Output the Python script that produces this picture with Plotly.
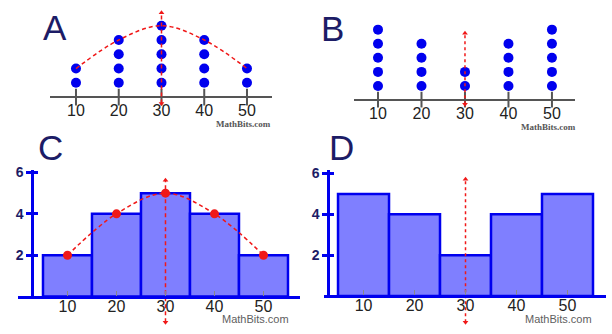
import plotly.graph_objects as go

# ---------------- data ----------------
categories = [10, 20, 30, 40, 50]
tick_labels = ["10", "20", "30", "40", "50"]
counts_A = [2, 4, 5, 4, 2]
counts_B = [5, 4, 2, 4, 5]
freq_C = [2, 4, 5, 4, 2]
freq_D = [5, 4, 2, 4, 5]
y_ticks_hist = [2, 4, 6]
center_value = 30
panel_letters = ["A", "B", "C", "D"]
credit = "MathBits.com"

# vertical guide extents (styling, in axis units)
guide_A = [-0.45, 5.9]
guide_B = [-0.3, 4.75]
guide_C = [-1.24, 5.62]
guide_D = [-1.28, 5.71]

W, H = 612, 334
def px_x(p): return p / W
def px_y(p): return 1 - p / H

BLUE_DOT = "#0000ee"
RED = "#f01818"
NAVY = "#1c1c66"
BAR_FILL = "#7f7fff"
BAR_LINE = "#0000ee"
AXIS_GRAY = "#555555"
FONT = "Liberation Sans, Arial, sans-serif"

fig = go.Figure()

def dot_plot(counts, xa, ya):
    xs, ys = [], []
    for c, n in zip(categories, counts):
        for k in range(1, n + 1):
            xs.append(c); ys.append(k)
    # tick marks crossing axis
    fig.add_trace(go.Scatter(x=categories, y=[0] * len(categories), mode="markers",
                             marker=dict(symbol="line-ns", size=12,
                                         line=dict(width=2, color=AXIS_GRAY)),
                             xaxis=xa, yaxis=ya, hoverinfo="skip", showlegend=False))
    fig.add_trace(go.Scatter(x=xs, y=ys, mode="markers",
                             marker=dict(size=10, color=BLUE_DOT),
                             xaxis=xa, yaxis=ya, showlegend=False))

def guide(ext, xa, ya, dash):
    fig.add_trace(go.Scatter(x=[center_value, center_value], y=ext, mode="lines+markers",
                             line=dict(color=RED, width=1.5, dash=dash),
                             marker=dict(symbol=["triangle-down", "triangle-up"], size=5, color=RED),
                             xaxis=xa, yaxis=ya, hoverinfo="skip", showlegend=False, cliponaxis=False))

# ---- A ----
dot_plot(counts_A, "x", "y")
fig.add_trace(go.Scatter(x=categories, y=counts_A, mode="lines", line=dict(color=RED, width=1.5, dash="4px,3px", shape="spline"),
                         xaxis="x", yaxis="y", hoverinfo="skip", showlegend=False))
guide(guide_A, "x", "y", "4px,3px")

# ---- B ----
dot_plot(counts_B, "x2", "y2")
guide(guide_B, "x2", "y2", "dot")

# ---- C ----
fig.add_trace(go.Bar(x=categories, y=freq_C, width=10, marker=dict(color=BAR_FILL, line=dict(color=BAR_LINE, width=2.5)),
                     xaxis="x3", yaxis="y3", showlegend=False))
fig.add_trace(go.Scatter(x=categories, y=freq_C, mode="lines+markers",
                         line=dict(color=RED, width=1.5, dash="4px,3px", shape="spline"),
                         marker=dict(size=9, color=RED),
                         xaxis="x3", yaxis="y3", showlegend=False))
guide(guide_C, "x3", "y3", "4px,3px")
fig.add_trace(go.Scatter(x=[], y=[], xaxis="x3", yaxis="y5", showlegend=False))
fig.add_trace(go.Scatter(x=[], y=[], xaxis="x3", yaxis="y7", showlegend=False))

# ---- D ----
fig.add_trace(go.Bar(x=categories, y=freq_D, width=10, marker=dict(color=BAR_FILL, line=dict(color=BAR_LINE, width=2.5)),
                     xaxis="x4", yaxis="y4", showlegend=False))
guide(guide_D, "x4", "y4", "dot")
fig.add_trace(go.Scatter(x=[], y=[], xaxis="x4", yaxis="y6", showlegend=False))
fig.add_trace(go.Scatter(x=[], y=[], xaxis="x4", yaxis="y8", showlegend=False))

hidden = dict(showgrid=False, zeroline=False, showline=False, showticklabels=False, ticks="", fixedrange=True)
tickfont = dict(family=FONT, size=16, color="#222222")

def xaxis_cfg(d0, d1, rng, pos, line):
    cfg = dict(domain=[px_x(d0), px_x(d1)], range=rng, anchor="free", position=pos,
               tickmode="array", tickvals=categories, ticktext=tick_labels, tickfont=tickfont,
               showgrid=False, zeroline=False, fixedrange=True)
    if line:
        cfg.update(showline=True, linecolor=BAR_LINE, linewidth=2.5, ticks="inside", ticklen=5,
                   tickcolor="#888888", tickwidth=1, ticklabelstandoff=-6)
    else:
        cfg.update(showline=False, ticks="")
    return cfg

def frame_y(d_bottom, d_top, rng, xpos, inside=False, overlay=None):
    cfg = dict(domain=[px_y(d_bottom), px_y(d_top)], range=rng, anchor="free", position=px_x(xpos),
               showline=not inside, linecolor=BAR_LINE, linewidth=2.5,
               tickmode="array", tickvals=y_ticks_hist,
               ticks="inside" if inside else "outside", ticklen=5, tickwidth=2.5, tickcolor=BAR_LINE,
               showticklabels=not inside,
               tickfont=dict(family=FONT, size=14, color=NAVY, weight="bold"),
               showgrid=False, zeroline=False, fixedrange=True)
    if overlay:
        cfg["overlaying"] = overlay
    return cfg

layout = dict(
    width=W, height=H, margin=dict(l=0, r=0, t=0, b=0),
    paper_bgcolor="white", plot_bgcolor="rgba(0,0,0,0)",
    font=dict(family=FONT), showlegend=False,
    # A
    xaxis=xaxis_cfg(50, 272, [3.92, 55.85], px_y(95), False),
    yaxis=dict(domain=[px_y(103), px_y(5)], range=[-0.655, 6.103], showgrid=False, showticklabels=False,
               zeroline=True, zerolinecolor=AXIS_GRAY, zerolinewidth=2, fixedrange=True),
    # B
    xaxis2=xaxis_cfg(354, 575, [4.48, 55.3], px_y(98), False),
    yaxis2=dict(domain=[px_y(104), px_y(15)], range=[-0.524, 5.70], showgrid=False, showticklabels=False,
                zeroline=True, zerolinecolor=AXIS_GRAY, zerolinewidth=2, fixedrange=True),
    # C
    xaxis3=xaxis_cfg(18, 300, [-0.1, 57.45], px_y(296), True),
    yaxis3=dict(domain=[px_y(325), px_y(167)], range=[-1.381, 6.143], **hidden),
    yaxis5=frame_y(296, 167, [0, 6.143], 32),
    yaxis7=frame_y(296, 167, [0, 6.143], 32, inside=True, overlay="y5"),
    # D
    xaxis4=xaxis_cfg(324, 606, [2.25, 57.55], px_y(295.5), True),
    yaxis4=dict(domain=[px_y(325), px_y(167)], range=[-1.422, 6.193], **hidden),
    yaxis6=frame_y(295.5, 167, [0, 6.193], 328),
    yaxis8=frame_y(295.5, 167, [0, 6.193], 328, inside=True, overlay="y6"),
    barmode="overlay",
)
fig.update_layout(**layout)

letter_pos = [(55, 23), (332, 24), (50, 145), (341, 145)]
for letter, (lx, ly) in zip(panel_letters, letter_pos):
    fig.add_annotation(text=letter, x=px_x(lx), y=px_y(ly), xref="paper", yref="paper",
                       showarrow=False, xanchor="center", yanchor="middle",
                       font=dict(family=FONT, size=35, color=NAVY))

credit_pos = [(243, 121, "serif"), (548, 124, "serif"), (255, 319, "sans"), (558, 319, "sans")]
for cx, cy, kind in credit_pos:
    if kind == "serif":
        f = dict(family="Liberation Serif, Times New Roman, serif", size=9, color="#555555", weight="bold")
    else:
        f = dict(family=FONT, size=11, color="#606060")
    fig.add_annotation(text=credit, x=px_x(cx), y=px_y(cy), xref="paper", yref="paper",
                       showarrow=False, xanchor="center", yanchor="middle", font=f)

fig.write_html("out.html")
